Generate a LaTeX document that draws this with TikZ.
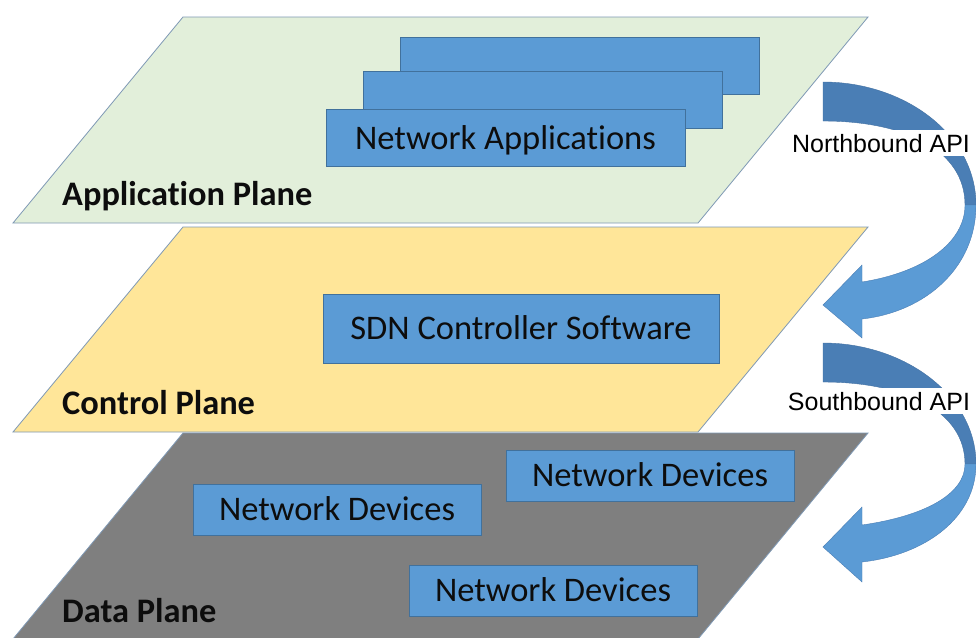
\documentclass[tikz,border=0pt]{standalone}
\usepackage{fontspec}
\setmainfont{Carlito}[Ligatures={NoCommon,NoContextual}]
\newfontfamily\apifont{Liberation Sans}

\definecolor{appgreen}{HTML}{E2EFDA}
\definecolor{ctrlyellow}{HTML}{FFE699}
\definecolor{datagray}{HTML}{7F7F7F}
\definecolor{planeedge}{HTML}{7F99B5}
\definecolor{boxblue}{HTML}{5B9BD5}
\definecolor{boxedge}{HTML}{41719C}
\definecolor{arrowlight}{HTML}{5B9BD5}
\definecolor{arrowdark}{HTML}{4A7EB5}
\definecolor{inktext}{HTML}{0D0D0D}

\tikzset{
  plane/.style={draw=planeedge, line width=0.8pt, line join=miter},
  box/.style={draw=boxedge, fill=boxblue, line width=0.9pt,
    inner sep=0pt, outer sep=0pt, text=inktext,
    font=\fontsize{34.5}{40}\selectfont,
    text height=22.2pt, text depth=0pt},
  appbox/.style={box, minimum width=359pt, minimum height=57pt},
  devbox/.style={box, minimum width=288pt, minimum height=51pt},
  planelabel/.style={anchor=base west, inner sep=0pt, text=inktext,
    font=\bfseries\fontsize{34.4}{40}\selectfont},
  apilabel/.style={fill=white, inner sep=4pt, anchor=base, text=black,
    font=\apifont\fontsize{25}{30}\selectfont},
  arrowback/.style={fill=arrowdark, draw=arrowdark!90!black, line width=0.4pt},
  arrowfront/.style={fill=arrowlight, draw=arrowdark, line width=0.4pt}
}

\begin{document}
\begin{tikzpicture}[x=1pt, y=-1pt]
  \clip (0,0) rectangle (976,637);
  \fill[white] (0,0) rectangle (976,637);

  % the three planes
  \filldraw[plane, fill=appgreen]   (183,17)  -- (868,17)  -- (698,223) -- (13,223) -- cycle;
  \filldraw[plane, fill=ctrlyellow] (183,227) -- (868,227) -- (698,432) -- (13,432) -- cycle;
  \filldraw[plane, fill=datagray]   (183,433) -- (868,433) -- (698,639) -- (13,639) -- cycle;

  % application plane contents
  \node[appbox] (app3) at (579.5,66) {};
  \node[appbox] (app2) at (542.5,100) {};
  \node[appbox] (app1) at (505.5,138) {Network Applications};
  \node[planelabel] (applbl) at (62,205) {Application Plane};

  % control plane contents
  \node[box, minimum width=396pt, minimum height=69pt] (sdn) at (521,328.5) {SDN Controller Software};
  \node[planelabel] (ctrllbl) at (62,414) {Control Plane};

  % data plane contents
  \node[devbox] (dev1) at (650,475.5) {Network Devices};
  \node[devbox] (dev2) at (337,509.5) {Network Devices};
  \node[devbox] (dev3) at (553,590.5) {Network Devices};
  \node[planelabel] (datalbl) at (62,622) {Data Plane};

  % northbound curved arrow
  \filldraw[arrowback] (823,82) .. controls (905,82) and (976,135) .. (976,205)
    -- (965,205) .. controls (965,150) and (905,121) .. (823,121) -- cycle;
  \filldraw[arrowfront] (976,205) .. controls (976,268) and (925,312) .. (862,319)
    -- (862,338) -- (823,305) -- (862,265) -- (862,282)
    .. controls (925,272) and (965,242) .. (965,205) -- cycle;

  % southbound curved arrow
  \filldraw[arrowback] (823,343) .. controls (905,343) and (976,396) .. (976,464)
    -- (965,464) .. controls (965,411) and (905,382) .. (823,382) -- cycle;
  \filldraw[arrowfront] (976,464) .. controls (976,518) and (925,555) .. (862,562)
    -- (862,582) -- (823,547) -- (862,507) -- (862,525)
    .. controls (925,516) and (965,494) .. (965,464) -- cycle;

  % interface labels
  \node[apilabel] (nbi) at (881,152) {Northbound API};
  \node[apilabel] (sbi) at (879,410) {Southbound API};
\end{tikzpicture}
\end{document}
